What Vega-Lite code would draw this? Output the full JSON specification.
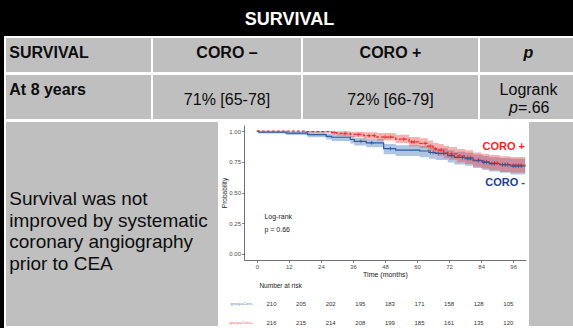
{
  "$schema": "https://vega.github.io/schema/vega-lite/v6.json",
  "background": "#000000",
  "padding": {"left": 4, "top": 0, "right": 0, "bottom": 3},
  "spacing": -2,
  "config": {"font": "Liberation Sans", "view": {"stroke": null}, "axis": {"labelOverlap": false}},
  "datasets": {
    "km": [
      {"g":"Coro-","t":0,"s":1,"lo":1,"hi":1},
      {"g":"Coro-","t":0.7,"s":0.992,"lo":0.981,"hi":1},
      {"g":"Coro-","t":11,"s":0.984,"lo":0.968,"hi":0.998},
      {"g":"Coro-","t":19,"s":0.972,"lo":0.95,"hi":0.99},
      {"g":"Coro-","t":26,"s":0.958,"lo":0.931,"hi":0.98},
      {"g":"Coro-","t":28,"s":0.95,"lo":0.92,"hi":0.974},
      {"g":"Coro-","t":35,"s":0.932,"lo":0.899,"hi":0.959},
      {"g":"Coro-","t":36.5,"s":0.917,"lo":0.882,"hi":0.946},
      {"g":"Coro-","t":41,"s":0.905,"lo":0.868,"hi":0.936},
      {"g":"Coro-","t":47.5,"s":0.858,"lo":0.812,"hi":0.896},
      {"g":"Coro-","t":52,"s":0.846,"lo":0.798,"hi":0.886},
      {"g":"Coro-","t":61,"s":0.838,"lo":0.787,"hi":0.879},
      {"g":"Coro-","t":64.5,"s":0.826,"lo":0.774,"hi":0.868},
      {"g":"Coro-","t":67,"s":0.818,"lo":0.765,"hi":0.861},
      {"g":"Coro-","t":71.5,"s":0.8,"lo":0.745,"hi":0.845},
      {"g":"Coro-","t":74,"s":0.786,"lo":0.729,"hi":0.833},
      {"g":"Coro-","t":78,"s":0.775,"lo":0.717,"hi":0.823},
      {"g":"Coro-","t":81,"s":0.76,"lo":0.7,"hi":0.81},
      {"g":"Coro-","t":84.5,"s":0.746,"lo":0.683,"hi":0.797},
      {"g":"Coro-","t":87,"s":0.735,"lo":0.671,"hi":0.787},
      {"g":"Coro-","t":91,"s":0.727,"lo":0.661,"hi":0.781},
      {"g":"Coro-","t":95,"s":0.716,"lo":0.646,"hi":0.774},
      {"g":"Coro-","t":100.5,"s":0.714,"lo":0.644,"hi":0.772},
      {"g":"Coro+","t":0,"s":1,"lo":1,"hi":1},
      {"g":"Coro+","t":18,"s":0.996,"lo":0.988,"hi":1},
      {"g":"Coro+","t":28,"s":0.988,"lo":0.974,"hi":1},
      {"g":"Coro+","t":30,"s":0.981,"lo":0.964,"hi":0.999},
      {"g":"Coro+","t":35,"s":0.973,"lo":0.952,"hi":0.996},
      {"g":"Coro+","t":40,"s":0.963,"lo":0.938,"hi":0.99},
      {"g":"Coro+","t":45,"s":0.952,"lo":0.924,"hi":0.984},
      {"g":"Coro+","t":52,"s":0.935,"lo":0.903,"hi":0.971},
      {"g":"Coro+","t":57,"s":0.912,"lo":0.876,"hi":0.952},
      {"g":"Coro+","t":61,"s":0.9,"lo":0.862,"hi":0.942},
      {"g":"Coro+","t":64,"s":0.878,"lo":0.837,"hi":0.923},
      {"g":"Coro+","t":66,"s":0.855,"lo":0.811,"hi":0.903},
      {"g":"Coro+","t":68,"s":0.845,"lo":0.799,"hi":0.895},
      {"g":"Coro+","t":70,"s":0.828,"lo":0.78,"hi":0.881},
      {"g":"Coro+","t":72,"s":0.815,"lo":0.766,"hi":0.87},
      {"g":"Coro+","t":75,"s":0.798,"lo":0.747,"hi":0.855},
      {"g":"Coro+","t":78,"s":0.785,"lo":0.732,"hi":0.844},
      {"g":"Coro+","t":81,"s":0.765,"lo":0.71,"hi":0.826},
      {"g":"Coro+","t":84,"s":0.752,"lo":0.695,"hi":0.815},
      {"g":"Coro+","t":87,"s":0.74,"lo":0.681,"hi":0.805},
      {"g":"Coro+","t":91,"s":0.728,"lo":0.667,"hi":0.795},
      {"g":"Coro+","t":95,"s":0.722,"lo":0.66,"hi":0.79},
      {"g":"Coro+","t":100.5,"s":0.72,"lo":0.658,"hi":0.788}
    ],
    "censor": [
      {"g":"Coro+","t":29,"s":0.988},{"g":"Coro+","t":33,"s":0.981},{"g":"Coro+","t":38,"s":0.973},
      {"g":"Coro+","t":42,"s":0.963},{"g":"Coro+","t":44,"s":0.963},{"g":"Coro+","t":48,"s":0.952},
      {"g":"Coro+","t":50,"s":0.952},{"g":"Coro+","t":55,"s":0.935},{"g":"Coro+","t":58,"s":0.912},
      {"g":"Coro+","t":59,"s":0.912},{"g":"Coro+","t":63,"s":0.9},{"g":"Coro+","t":65,"s":0.878},
      {"g":"Coro+","t":67,"s":0.855},{"g":"Coro+","t":69,"s":0.845},{"g":"Coro+","t":73,"s":0.815},
      {"g":"Coro+","t":76,"s":0.798},{"g":"Coro+","t":79,"s":0.785},{"g":"Coro+","t":80,"s":0.785},
      {"g":"Coro+","t":83,"s":0.765},{"g":"Coro+","t":85,"s":0.752},{"g":"Coro+","t":86,"s":0.752},
      {"g":"Coro+","t":89,"s":0.74},{"g":"Coro+","t":90,"s":0.74},{"g":"Coro+","t":92,"s":0.728},
      {"g":"Coro+","t":93,"s":0.728},{"g":"Coro+","t":94,"s":0.728},{"g":"Coro+","t":96,"s":0.722},
      {"g":"Coro+","t":97,"s":0.722},{"g":"Coro+","t":98,"s":0.722},{"g":"Coro+","t":99,"s":0.722},
      {"g":"Coro-","t":39,"s":0.917},{"g":"Coro-","t":43,"s":0.905},{"g":"Coro-","t":50,"s":0.858},
      {"g":"Coro-","t":65,"s":0.826},{"g":"Coro-","t":66,"s":0.826},{"g":"Coro-","t":68,"s":0.818},
      {"g":"Coro-","t":70,"s":0.818},{"g":"Coro-","t":73,"s":0.8},{"g":"Coro-","t":77,"s":0.786},
      {"g":"Coro-","t":79,"s":0.775},{"g":"Coro-","t":80,"s":0.775},{"g":"Coro-","t":83,"s":0.76},
      {"g":"Coro-","t":85,"s":0.746},{"g":"Coro-","t":86,"s":0.746},{"g":"Coro-","t":88,"s":0.735},
      {"g":"Coro-","t":89,"s":0.735},{"g":"Coro-","t":92,"s":0.727},{"g":"Coro-","t":93,"s":0.727},
      {"g":"Coro-","t":94,"s":0.727},{"g":"Coro-","t":96,"s":0.716},{"g":"Coro-","t":97,"s":0.716},
      {"g":"Coro-","t":98,"s":0.716},{"g":"Coro-","t":99,"s":0.716}
    ],
    "risk": [
      {"g":"Coro-","t":0,"n":210},{"g":"Coro-","t":12,"n":205},{"g":"Coro-","t":24,"n":202},
      {"g":"Coro-","t":36,"n":195},{"g":"Coro-","t":48,"n":183},{"g":"Coro-","t":60,"n":171},
      {"g":"Coro-","t":72,"n":158},{"g":"Coro-","t":84,"n":128},{"g":"Coro-","t":96,"n":105},
      {"g":"Coro+","t":0,"n":216},{"g":"Coro+","t":12,"n":215},{"g":"Coro+","t":24,"n":214},
      {"g":"Coro+","t":36,"n":208},{"g":"Coro+","t":48,"n":199},{"g":"Coro+","t":60,"n":185},
      {"g":"Coro+","t":72,"n":161},{"g":"Coro+","t":84,"n":135},{"g":"Coro+","t":96,"n":120}
    ]
  },
  "vconcat": [
    {
      "width": 569, "height": 37,
      "view": {"fill": "#000000", "stroke": null},
      "data": {"values": [{"label": "SURVIVAL"}]},
      "mark": {"type": "text", "color": "#ffffff", "fontSize": 18, "fontWeight": "bold", "baseline": "middle", "dy": 1.5},
      "encoding": {"text": {"field": "label"}}
    },
    {
      "hconcat": [
        {
          "width": 147, "height": 36,
          "view": {"fill": "#bfbfbf", "stroke": "#ffffff", "strokeWidth": 2},
          "data": {"values": [{"label": "SURVIVAL"}]},
          "mark": {"type": "text", "align": "left", "baseline": "middle", "fontSize": 16, "fontWeight": "bold", "color": "#0d0d0d", "dx": 4.3, "dy": -2},
          "encoding": {"text": {"field": "label"}, "x": {"datum": 0, "type": "quantitative", "scale": {"domain": [0, 1]}, "axis": null}}
        },
        {
          "width": 150, "height": 36,
          "view": {"fill": "#bfbfbf", "stroke": "#ffffff", "strokeWidth": 2},
          "data": {"values": [{"label": "CORO –"}]},
          "mark": {"type": "text", "baseline": "middle", "fontSize": 16, "fontWeight": "bold", "color": "#0d0d0d", "dy": -2},
          "encoding": {"text": {"field": "label"}}
        },
        {
          "width": 177, "height": 36,
          "view": {"fill": "#bfbfbf", "stroke": "#ffffff", "strokeWidth": 2},
          "data": {"values": [{"label": "CORO +"}]},
          "mark": {"type": "text", "baseline": "middle", "fontSize": 16, "fontWeight": "bold", "color": "#0d0d0d", "dy": -2},
          "encoding": {"text": {"field": "label"}}
        },
        {
          "width": 95, "height": 36,
          "view": {"fill": "#bfbfbf", "stroke": "#ffffff", "strokeWidth": 2},
          "data": {"values": [{"label": "p"}]},
          "mark": {"type": "text", "baseline": "middle", "fontSize": 16, "fontWeight": "bold", "fontStyle": "italic", "color": "#0d0d0d", "dx": 2, "dy": -2},
          "encoding": {"text": {"field": "label"}}
        }
      ],
      "spacing": 0,
      "bounds": "flush"
    },
    {
      "hconcat": [
        {
          "width": 147, "height": 46,
          "view": {"fill": "#bfbfbf", "stroke": "#ffffff", "strokeWidth": 2},
          "data": {"values": [{"label": "At 8 years"}]},
          "mark": {"type": "text", "align": "left", "baseline": "middle", "fontSize": 16, "fontWeight": "bold", "color": "#0d0d0d", "dx": 4.3, "dy": -7.3},
          "encoding": {"text": {"field": "label"}, "x": {"datum": 0, "type": "quantitative", "scale": {"domain": [0, 1]}, "axis": null}}
        },
        {
          "width": 150, "height": 46,
          "view": {"fill": "#bfbfbf", "stroke": "#ffffff", "strokeWidth": 2},
          "data": {"values": [{"label": "71% [65-78]"}]},
          "mark": {"type": "text", "baseline": "middle", "fontSize": 16, "color": "#0d0d0d", "dy": 2.6},
          "encoding": {"text": {"field": "label"}}
        },
        {
          "width": 177, "height": 46,
          "view": {"fill": "#bfbfbf", "stroke": "#ffffff", "strokeWidth": 2},
          "data": {"values": [{"label": "72% [66-79]"}]},
          "mark": {"type": "text", "baseline": "middle", "fontSize": 16, "color": "#0d0d0d", "dy": 2.6},
          "encoding": {"text": {"field": "label"}}
        },
        {
          "width": 95, "height": 46,
          "view": {"fill": "#bfbfbf", "stroke": "#ffffff", "strokeWidth": 2},
          "data": {"values": [{"a": "Logrank", "b": "p", "c": "=.66"}]},
          "layer": [
            {"mark": {"type": "text", "baseline": "middle", "fontSize": 16, "color": "#0d0d0d", "dx": 2, "dy": -6.7}, "encoding": {"text": {"field": "a"}}},
            {"mark": {"type": "text", "baseline": "middle", "align": "right", "fontSize": 16, "fontStyle": "italic", "color": "#0d0d0d", "dx": -8.6, "dy": 10.9}, "encoding": {"text": {"field": "b"}}},
            {"mark": {"type": "text", "baseline": "middle", "align": "left", "fontSize": 16, "color": "#0d0d0d", "dx": -8.6, "dy": 10.9}, "encoding": {"text": {"field": "c"}}}
          ]
        }
      ],
      "spacing": 0,
      "bounds": "flush"
    },
    {
      "hconcat": [
        {
          "width": 214, "height": 206,
          "view": {"fill": "#bfbfbf", "stroke": "#ffffff", "strokeWidth": 2},
          "data": {"values": [{"label": "Survival was not\nimproved by systematic\ncoronary angiography\nprior to CEA"}]},
          "mark": {"type": "text", "align": "left", "baseline": "middle", "fontSize": 19, "lineHeight": 21.7, "lineBreak": "\n", "color": "#0d0d0d", "dx": 4.3, "dy": -24.9},
          "encoding": {"text": {"field": "label"}, "x": {"datum": 0, "type": "quantitative", "scale": {"domain": [0, 1]}, "axis": null}}
        },
        {
          "width": 309, "height": 206,
          "view": {"fill": "#ffffff", "stroke": "#ffffff", "strokeWidth": 2},
          "layer": [
            {
              "layer": [
                {
                  "data": {"name": "km"},
                  "transform": [{"filter": "datum.g === 'Coro-'"}],
                  "mark": {"type": "area", "interpolate": "step-after", "opacity": 0.4},
                  "encoding": {
                    "x": {"field": "t", "type": "quantitative", "title": "Time (months)",
                      "scale": {"domain": [-4.8, 100.8], "range": [25, 307], "nice": false, "zero": false},
                      "axis": {"values": [0, 12, 24, 36, 48, 60, 72, 84, 96], "tickCount": 12, "offset": -67, "grid": false, "labelOverlap": false,
                        "labelFontSize": 6, "labelColor": "#4d4d4d", "labelPadding": 1, "tickSize": 2.5, "tickColor": "#333333", "tickWidth": 0.6,
                        "domainColor": "#333333", "domainWidth": 0.7, "titleFontSize": 7, "titleFontWeight": "normal", "titleColor": "#1a1a1a", "titlePadding": 1}},
                    "y": {"field": "lo", "type": "quantitative", "title": "Probability", "stack": null,
                      "scale": {"domain": [-0.05, 1.05], "range": [139, 4], "nice": false, "zero": false},
                      "axis": {"values": [0, 0.25, 0.5, 0.75, 1], "tickCount": 8, "format": ".2f", "offset": -25, "grid": false, "labelOverlap": false,
                        "labelFontSize": 6, "labelColor": "#4d4d4d", "labelPadding": 1, "tickSize": 2.5, "tickColor": "#333333", "tickWidth": 0.6,
                        "domainColor": "#333333", "domainWidth": 0.7, "titleFontSize": 6.5, "titleFontWeight": "normal", "titleColor": "#1a1a1a", "titlePadding": 1}},
                    "y2": {"field": "hi"},
                    "color": {"value": "#3a6db0"}
                  }
                },
                {
                  "data": {"name": "km"},
                  "transform": [{"filter": "datum.g === 'Coro+'"}],
                  "mark": {"type": "area", "interpolate": "step-after", "opacity": 0.4},
                  "encoding": {
                    "x": {"field": "t", "type": "quantitative", "title": "Time (months)"},
                    "y": {"field": "lo", "type": "quantitative", "title": "Probability", "stack": null},
                    "y2": {"field": "hi"},
                    "color": {"value": "#f03a3a"}
                  }
                },
                {
                  "data": {"name": "km"},
                  "transform": [{"filter": "datum.g === 'Coro-'"}],
                  "mark": {"type": "line", "interpolate": "step-after", "strokeWidth": 1.2, "color": "#2c5b9b"},
                  "encoding": {
                    "x": {"field": "t", "type": "quantitative", "title": "Time (months)"},
                    "y": {"field": "s", "type": "quantitative", "title": "Probability"}
                  }
                },
                {
                  "data": {"name": "km"},
                  "transform": [{"filter": "datum.g === 'Coro+'"}],
                  "mark": {"type": "line", "interpolate": "step-after", "strokeWidth": 1.2, "color": "#f42a2a", "strokeDash": [3, 2]},
                  "encoding": {
                    "x": {"field": "t", "type": "quantitative", "title": "Time (months)"},
                    "y": {"field": "s", "type": "quantitative", "title": "Probability"}
                  }
                },
                {
                  "data": {"name": "censor"},
                  "mark": {"type": "point", "shape": "M-1,0L1,0M0,-1L0,1", "filled": false, "size": 14, "strokeWidth": 0.8, "opacity": 1},
                  "encoding": {
                    "x": {"field": "t", "type": "quantitative", "title": "Time (months)"},
                    "y": {"field": "s", "type": "quantitative", "title": "Probability"},
                    "color": {"field": "g", "type": "nominal", "scale": {"domain": ["Coro-", "Coro+"], "range": ["#2c5b9b", "#f42a2a"]}, "legend": null}
                  }
                },
                {
                  "data": {"values": [{"a": "Log-rank", "b": "p = 0.66"}]},
                  "layer": [
                    {"mark": {"type": "text", "align": "left", "baseline": "middle", "fontSize": 7, "color": "#1a1a1a"},
                     "encoding": {"x": {"datum": 2.85}, "y": {"datum": 0.298}, "text": {"field": "a"}}},
                    {"mark": {"type": "text", "align": "left", "baseline": "middle", "fontSize": 7, "color": "#1a1a1a"},
                     "encoding": {"x": {"datum": 2.85}, "y": {"datum": 0.195}, "text": {"field": "b"}}}
                  ]
                },
                {
                  "data": {"values": [{"g": "Coro+", "label": "CORO +", "p": 0.87}, {"g": "Coro-", "label": "CORO -", "p": 0.575}]},
                  "mark": {"type": "text", "align": "right", "baseline": "middle", "fontSize": 11, "fontWeight": "bold"},
                  "encoding": {
                    "x": {"datum": 100.4},
                    "y": {"field": "p", "type": "quantitative", "title": "Probability"},
                    "text": {"field": "label"},
                    "color": {"field": "g", "type": "nominal", "scale": {"domain": ["Coro-", "Coro+"], "range": ["#1f3d96", "#ff1f1f"]}, "legend": null}
                  }
                }
              ],
              "resolve": {"scale": {"color": "independent"}}
            },
            {
              "layer": [
                {
                  "data": {"name": "risk"},
                  "mark": {"type": "text", "baseline": "middle", "fontSize": 6, "color": "#333333"},
                  "encoding": {
                    "x": {"field": "t", "type": "quantitative", "scale": {"domain": [0, 96], "range": [52.5, 289.3], "nice": false}, "axis": null},
                    "y": {"field": "g", "type": "nominal", "scale": {"type": "point", "domain": ["Number at risk", "Coro-", "Coro+"], "range": [164.7, 202], "padding": 0}, "axis": null},
                    "text": {"field": "n"}
                  }
                },
                {
                  "data": {"values": [{"label": "Number at risk"}]},
                  "mark": {"type": "text", "align": "left", "baseline": "middle", "fontSize": 6.5, "color": "#1a1a1a"},
                  "encoding": {
                    "x": {"datum": -4.9},
                    "y": {"datum": "Number at risk"},
                    "text": {"field": "label"}
                  }
                },
                {
                  "data": {"values": [{"g": "Coro-", "label": "group=Coro-"}, {"g": "Coro+", "label": "group=Coro+"}]},
                  "mark": {"type": "text", "align": "right", "baseline": "middle", "fontSize": 4},
                  "encoding": {
                    "x": {"datum": -7.5},
                    "y": {"field": "g", "type": "nominal"},
                    "text": {"field": "label"},
                    "color": {"field": "g", "type": "nominal", "scale": {"domain": ["Coro-", "Coro+"], "range": ["#5b87c7", "#f25c5c"]}, "legend": null}
                  }
                }
              ]
            }
          ],
          "resolve": {"scale": {"x": "independent", "y": "independent", "color": "independent"}, "axis": {"x": "independent", "y": "independent"}}
        },
        {
          "width": 46, "height": 206,
          "view": {"fill": "#bfbfbf", "stroke": "#ffffff", "strokeWidth": 2},
          "data": {"values": [{"label": ""}]},
          "mark": {"type": "text"},
          "encoding": {"text": {"field": "label"}}
        }
      ],
      "spacing": 0,
      "bounds": "flush"
    }
  ]
}
